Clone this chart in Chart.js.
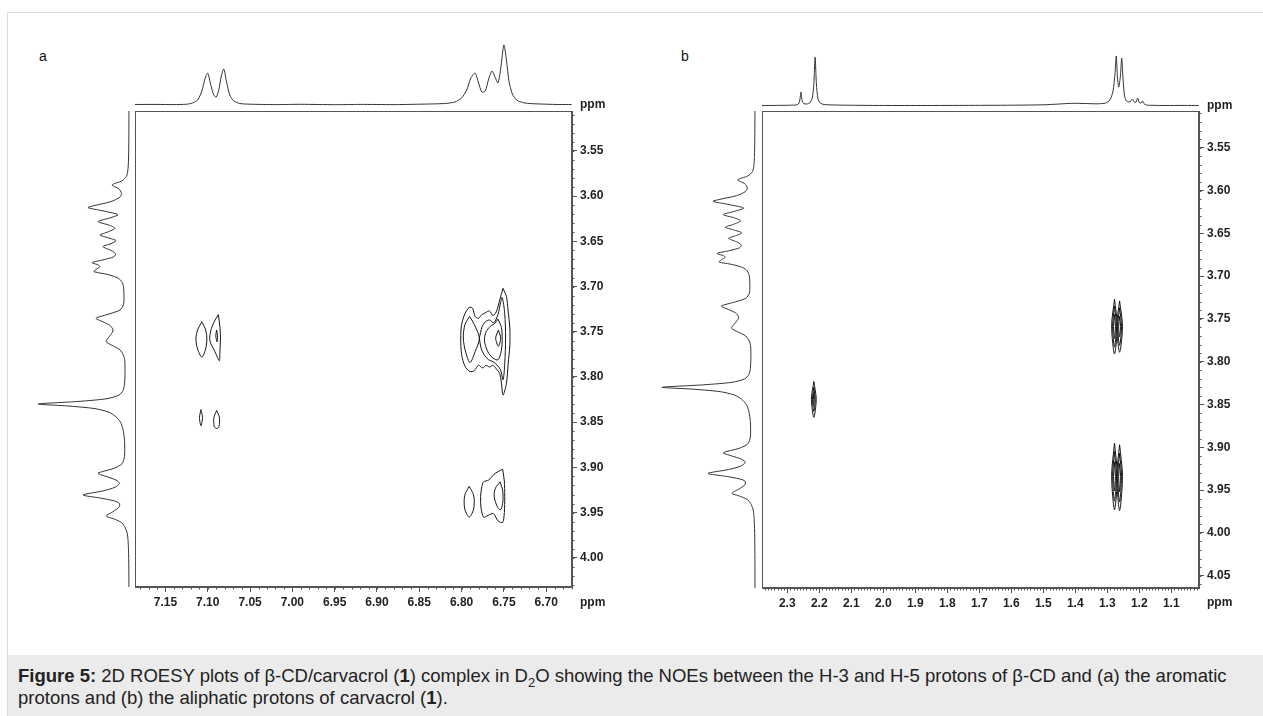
<!DOCTYPE html>
<html>
<head>
<meta charset="utf-8">
<script src="https://cdn.jsdelivr.net/npm/chart.js@4.4.1/dist/chart.umd.min.js"></script>
<style>
  body { margin: 0; width: 1263px; height: 716px; overflow: hidden; background: #fff; position: relative;
         font-family: "Liberation Sans", Arial, Helvetica, sans-serif; }
  canvas { position: absolute; }
  .frame { position: absolute; left: 7px; top: 12px; width: 1300px; height: 800px; border: 1px solid #dcdcdc; box-sizing: border-box; }
  .panel-label { position: absolute; font-size: 14px; line-height: 16px; color: #111; }
  .ppm { position: absolute; font-size: 12px; font-weight: bold; line-height: 14px; color: #222; }
  .caption-box { position: absolute; left: 8px; top: 655px; width: 1300px; height: 80px; background: #ebebeb; }
  .caption { position: absolute; left: 18px; top: 665px; font-size: 18.5px; line-height: 22px; color: #222; white-space: nowrap; }
  .caption sub { font-size: 13px; line-height: 0; }
</style>
</head>
<body>
<div class="frame"></div>

<div class="panel-label" style="left:39px; top:48px;">a</div>
<div class="panel-label" style="left:681px; top:48px;">b</div>

<canvas id="aTop" width="437" height="70" style="left:135px; top:36px;"></canvas>
<canvas id="aSide" width="100" height="476" style="left:30px; top:111px;"></canvas>
<canvas id="aMain" width="540" height="530" style="left:100px; top:100px;"></canvas>

<canvas id="bTop" width="437" height="70" style="left:762px; top:37px;"></canvas>
<canvas id="bSide" width="100" height="477" style="left:656px; top:111px;"></canvas>
<canvas id="bMain" width="540" height="530" style="left:727px; top:100px;"></canvas>

<div class="ppm" style="left:580px; top:97px;">ppm</div>
<div class="ppm" style="left:580px; top:595px;">ppm</div>
<div class="ppm" style="left:1207px; top:98px;">ppm</div>
<div class="ppm" style="left:1207px; top:595px;">ppm</div>

<div class="caption-box"></div>
<div class="caption"><b>Figure 5:</b> 2D ROESY plots of β-CD/carvacrol (<b>1</b>) complex in D<sub>2</sub>O showing the NOEs between the H-3 and H-5 protons of β-CD and (a) the aromatic<br>protons and (b) the aliphatic protons of carvacrol (<b>1</b>).</div>

<script>
Chart.defaults.font.family = '"Liberation Sans", Arial, Helvetica, sans-serif';
Chart.defaults.animation = false;

// axis ranges (ppm) and tick labels
const aXRange = [6.6695, 7.186];
const aYRange = [3.5058, 4.0323];
const bXRange = [1.0134, 2.379];
const bYRange = [3.5071, 4.0644];
const aXTicks = [7.15, 7.10, 7.05, 7.00, 6.95, 6.90, 6.85, 6.80, 6.75, 6.70];
const aYTicks = [3.55, 3.60, 3.65, 3.70, 3.75, 3.80, 3.85, 3.90, 3.95, 4.00];
const bXTicks = [2.3, 2.2, 2.1, 2.0, 1.9, 1.8, 1.7, 1.6, 1.5, 1.4, 1.3, 1.2, 1.1];
const bYTicks = [3.55, 3.60, 3.65, 3.70, 3.75, 3.80, 3.85, 3.90, 3.95, 4.00, 4.05];

// F2 projection (top) of panel a: [ppm, intensity]
const aF2Proj = [
  [7.186,0.5],[7.16,0.6],[7.14,0.4],[7.125,0.8],[7.118,2],[7.112,5],[7.107,14],[7.103,27],[7.100,32],
  [7.097,22],[7.093,10],[7.090,8],[7.087,15],[7.084,29],[7.081,36],[7.078,24],[7.074,10],[7.069,4],
  [7.062,1.5],[7.05,0.8],[7.02,0.4],[6.99,0.7],[6.95,0.3],[6.92,0.6],[6.88,0.4],[6.85,0.8],[6.82,1.5],
  [6.808,3],[6.800,7],[6.794,15],[6.789,27],[6.784,32],[6.780,22],[6.776,13],[6.772,14],[6.768,26],
  [6.764,34],[6.760,27],[6.757,22],[6.754,35],[6.750,60],[6.747,45],[6.744,24],[6.740,11],[6.735,5],
  [6.728,2.5],[6.72,1.5],[6.70,0.8],[6.685,0.5],[6.670,0.5]
];

// F2 projection (top) of panel b
const bF2Proj = [
  [2.379,0.5],[2.33,0.6],[2.29,0.8],[2.27,1.2],[2.263,3],[2.259,10],[2.257,14],[2.254,6],[2.249,2.5],
  [2.240,2],[2.230,3],[2.222,8],[2.217,22],[2.213,49],[2.209,22],[2.204,7],[2.197,3],[2.185,1.5],
  [2.15,1],[2.05,0.6],[1.90,0.5],[1.75,0.6],[1.60,0.8],[1.50,1.2],[1.45,2],[1.41,2.7],[1.37,2.5],
  [1.33,2.2],[1.305,3],[1.292,6],[1.282,15],[1.276,32],[1.272,50],[1.268,28],[1.264,19],[1.259,30],
  [1.255,48],[1.251,28],[1.246,10],[1.240,5],[1.232,4],[1.226,5],[1.221,7],[1.216,4],[1.210,4],
  [1.205,8],[1.200,3.5],[1.194,3],[1.190,5],[1.186,2.5],[1.178,1],[1.16,0.7],[1.12,0.5],[1.06,0.6],
  [1.014,0.5]
];

// F1 projection (left, beta-CD region), same in both panels: [ppm, intensity]
const f1Proj = [
  [3.505,0],[3.540,0.2],[3.560,0.5],[3.572,1.2],[3.578,2.5],[3.583,7],[3.5876,17],[3.592,10],[3.597,7.5],
  [3.601,9],[3.606,18],[3.6105,35],[3.6127,41],[3.616,27],[3.6195,13],[3.6208,11],[3.624,19],[3.6282,31],
  [3.632,20],[3.6355,14],[3.6395,21],[3.6429,29],[3.646,21],[3.6492,13],[3.6525,18],[3.6558,26],[3.660,18],
  [3.6635,13.5],[3.6669,15],[3.6705,26],[3.6735,37],[3.676,31],[3.6780,29],[3.681,33],[3.6835,35],
  [3.6865,22],[3.690,12],[3.694,7.5],[3.700,5.5],[3.712,5],[3.720,5.5],[3.726,9],[3.731,22],[3.7351,33],
  [3.739,26],[3.743,19],[3.748,16],[3.753,18],[3.757,21],[3.7609,23],[3.765,17],[3.770,9],[3.776,5.5],
  [3.781,4.3],[3.795,4],[3.808,4.5],[3.815,6],[3.820,10],[3.824,22],[3.827,50],[3.8299,91],[3.832,62],
  [3.835,34],[3.839,20],[3.844,13],[3.850,8.5],[3.858,6],[3.870,4.5],[3.888,4.5],[3.896,7],[3.901,15],
  [3.9065,31],[3.910,23],[3.914,13],[3.9176,9.5],[3.922,14],[3.926,26],[3.9305,46],[3.934,28],[3.937,15],
  [3.9397,9.5],[3.944,10],[3.949,16],[3.9537,22.7],[3.957,15],[3.961,7.5],[3.9655,4.3],[3.972,2],
  [3.980,1],[3.995,0.4],[4.02,0.1],[4.07,0]
];

// cross-peak contours of panel a: each one [F2 ppm, F1 ppm] around the outline
const aContours = [
  [[7.107,3.739],[7.1025,3.748],[7.101,3.758],[7.1025,3.769],[7.107,3.778],[7.112,3.769],[7.114,3.758],[7.112,3.748],[7.107,3.739]],
  [[7.0875,3.731],[7.0856,3.745],[7.085,3.758],[7.0856,3.771],[7.0864,3.782],[7.0915,3.772],[7.0975,3.760],[7.0965,3.749],[7.0925,3.739],[7.0875,3.731]],
  [[7.0895,3.748],[7.0885,3.7545],[7.089,3.761],[7.0905,3.7545],[7.0895,3.748]],
  [[7.108,3.836],[7.1062,3.845],[7.108,3.854],[7.1098,3.845],[7.108,3.836]],
  [[7.0895,3.837],[7.0862,3.845],[7.0868,3.855],[7.0895,3.857],[7.0922,3.855],[7.0928,3.845],[7.0895,3.837]],
  [[6.751,3.702],[6.747,3.711],[6.745,3.727],[6.743,3.746],[6.743,3.765],[6.745,3.786],[6.747,3.807],[6.751,3.820],
   [6.753,3.806],[6.755,3.796],[6.759,3.791],[6.763,3.787],[6.767,3.789],[6.771,3.787],[6.775,3.790],[6.780,3.787],
   [6.785,3.793],[6.790,3.794],[6.796,3.788],[6.800,3.775],[6.801,3.758],[6.800,3.742],[6.796,3.730],[6.791,3.723],
   [6.787,3.724],[6.784,3.733],[6.780,3.735],[6.776,3.731],[6.772,3.729],[6.767,3.727],[6.763,3.732],[6.759,3.728],
   [6.755,3.715],[6.751,3.702]],
  [[6.7905,3.733],[6.785,3.742],[6.779,3.757],[6.784,3.772],[6.790,3.784],[6.795,3.773],[6.798,3.757],[6.796,3.742],[6.7905,3.733]],
  [[6.779,3.757],[6.776,3.745],[6.772,3.739],[6.767,3.737],[6.762,3.740],[6.757,3.731],[6.754,3.718],[6.752,3.712],
   [6.749,3.730],[6.748,3.757],[6.749,3.785],[6.751,3.803],[6.754,3.792],[6.758,3.787],[6.763,3.783],[6.768,3.781],
   [6.773,3.776],[6.777,3.768],[6.779,3.757]],
  [[6.757,3.736],[6.753,3.745],[6.752,3.758],[6.753,3.771],[6.757,3.781],[6.763,3.779],[6.769,3.772],[6.773,3.760],
   [6.771,3.750],[6.766,3.744],[6.761,3.741],[6.757,3.736]],
  [[6.7565,3.748],[6.7538,3.757],[6.7565,3.766],[6.7597,3.757],[6.7565,3.748]],
  [[6.791,3.921],[6.786,3.930],[6.785,3.938],[6.786,3.947],[6.791,3.955],[6.796,3.947],[6.797,3.938],[6.796,3.930],[6.791,3.921]],
  [[6.7515,3.902],[6.7495,3.915],[6.749,3.932],[6.7495,3.950],[6.7515,3.961],[6.757,3.959],[6.7625,3.951],[6.7685,3.953],
   [6.774,3.955],[6.777,3.945],[6.7775,3.932],[6.776,3.921],[6.774,3.916],[6.768,3.914],[6.762,3.908],[6.757,3.9047],[6.7515,3.902]],
  [[6.7545,3.916],[6.7515,3.925],[6.751,3.932],[6.7515,3.940],[6.754,3.947],[6.758,3.943],[6.7615,3.932],[6.760,3.923],[6.7545,3.916]]
];

// cross-peak contours of panel b
const bContours = [
  [[2.217,3.823],[2.2095,3.844],[2.217,3.865],[2.2245,3.844],[2.217,3.823]],
  [[2.217,3.830],[2.2125,3.844],[2.217,3.858],[2.2215,3.844],[2.217,3.830]],
  [[2.217,3.836],[2.2155,3.844],[2.217,3.852],[2.2185,3.844],[2.217,3.836]],
  [[1.2775,3.727],[1.2685,3.759],[1.2775,3.791],[1.2865,3.759],[1.2775,3.727]],
  [[1.2615,3.729],[1.2525,3.759],[1.2615,3.789],[1.2705,3.759],[1.2615,3.729]],
  [[1.2775,3.735],[1.2715,3.759],[1.2775,3.783],[1.2835,3.759],[1.2775,3.735]],
  [[1.2615,3.737],[1.2555,3.759],[1.2615,3.781],[1.2675,3.759],[1.2615,3.737]],
  [[1.2775,3.745],[1.2745,3.759],[1.2775,3.773],[1.2805,3.759],[1.2775,3.745]],
  [[1.2615,3.747],[1.2585,3.759],[1.2615,3.771],[1.2645,3.759],[1.2615,3.747]],
  [[1.2775,3.895],[1.2685,3.934],[1.2775,3.973],[1.2865,3.934],[1.2775,3.895]],
  [[1.2615,3.897],[1.2525,3.934],[1.2615,3.974],[1.2705,3.934],[1.2615,3.897]],
  [[1.2775,3.905],[1.2715,3.934],[1.2775,3.963],[1.2835,3.934],[1.2775,3.905]],
  [[1.2615,3.907],[1.2555,3.934],[1.2615,3.964],[1.2675,3.934],[1.2615,3.907]],
  [[1.2775,3.917],[1.2745,3.934],[1.2775,3.951],[1.2805,3.934],[1.2775,3.917]],
  [[1.2615,3.919],[1.2585,3.934],[1.2615,3.952],[1.2645,3.934],[1.2615,3.919]]
];

const axisColor = '#555';
const labelFont = { size: 12, weight: 'bold' };

function lineSet(points, color, tension, swap) {
  return {
    data: points.map(p => swap ? { x: p[1], y: p[0] } : { x: p[0], y: p[1] }),
    showLine: true,
    borderColor: color,
    borderWidth: 1,
    pointRadius: 0,
    tension: tension,
    fill: false
  };
}

// frame round the plot area and the short 0.01 ppm ticks
const frameTicks = {
  id: 'frameTicks',
  afterDraw(chart) {
    const { ctx, chartArea: a, scales } = chart;
    const l = Math.round(a.left) + 0.5, r = Math.round(a.right) - 0.5;
    const t = Math.round(a.top) + 0.5, b = Math.round(a.bottom) - 0.5;
    ctx.save();
    ctx.strokeStyle = axisColor;
    ctx.lineWidth = 1;
    ctx.strokeRect(l, t, r - l, b - t);
    ctx.beginPath();
    const xs = scales.x, ys = scales.y;
    for (let v = Math.ceil(xs.min * 100 - 1e-6); v <= xs.max * 100 + 1e-6; v++) {
      const px = Math.round(xs.getPixelForValue(v / 100)) + 0.5;
      ctx.moveTo(px, b);
      ctx.lineTo(px, b + 3);
    }
    for (let v = Math.ceil(ys.min * 100 - 1e-6); v <= ys.max * 100 + 1e-6; v++) {
      const py = Math.round(ys.getPixelForValue(v / 100)) + 0.5;
      ctx.moveTo(r, py);
      ctx.lineTo(r + 3, py);
    }
    ctx.stroke();
    ctx.restore();
  }
};

function makeMain(id, contours, xRange, yRange, xTicks, yTicks, xDigits, padBottom) {
  new Chart(document.getElementById(id), {
    type: 'scatter',
    data: { datasets: contours.map(c => lineSet(c, '#151515', 0.3, false)) },
    options: {
      responsive: false,
      devicePixelRatio: 1,
      layout: { padding: { left: 35, top: 11, right: 18, bottom: padBottom } },
      plugins: { legend: { display: false }, tooltip: { enabled: false } },
      scales: {
        x: {
          type: 'linear', position: 'bottom', reverse: true,
          min: xRange[0], max: xRange[1],
          afterBuildTicks: s => { s.ticks = xTicks.map(v => ({ value: v })); },
          afterFit: s => { s.height = 30; },
          grid: { drawOnChartArea: false, tickLength: 5, color: axisColor },
          border: { color: axisColor },
          ticks: { autoSkip: false, maxRotation: 0, padding: 3, color: '#222', font: labelFont,
                   callback: v => v.toFixed(xDigits) }
        },
        y: {
          type: 'linear', position: 'right', reverse: true,
          min: yRange[0], max: yRange[1],
          afterBuildTicks: s => { s.ticks = yTicks.map(v => ({ value: v })); },
          afterFit: s => { s.width = 50; },
          grid: { drawOnChartArea: false, tickLength: 5, color: axisColor },
          border: { color: axisColor },
          ticks: { autoSkip: false, padding: 3, color: '#222', font: labelFont,
                   callback: v => v.toFixed(2) }
        }
      }
    },
    plugins: [frameTicks]
  });
}

function makeTop(id, proj, xRange) {
  new Chart(document.getElementById(id), {
    type: 'scatter',
    data: { datasets: [lineSet(proj, '#333', 0.25, false)] },
    options: {
      responsive: false,
      devicePixelRatio: 1,
      plugins: { legend: { display: false }, tooltip: { enabled: false } },
      scales: {
        x: { type: 'linear', display: false, reverse: true, min: xRange[0], max: xRange[1] },
        y: { type: 'linear', display: false, min: -1, max: 69 }
      }
    }
  });
}

function makeSide(id, proj, yRange, xMax) {
  new Chart(document.getElementById(id), {
    type: 'scatter',
    data: { datasets: [lineSet(proj, '#333', 0.25, true)] },
    options: {
      responsive: false,
      devicePixelRatio: 1,
      plugins: { legend: { display: false }, tooltip: { enabled: false } },
      scales: {
        x: { type: 'linear', display: false, reverse: true, min: -1, max: xMax },
        y: { type: 'linear', display: false, reverse: true, min: yRange[0], max: yRange[1] }
      }
    }
  });
}

makeTop('aTop', aF2Proj, aXRange);
makeSide('aSide', f1Proj, aYRange, 99);
makeMain('aMain', aContours, aXRange, aYRange, aXTicks, aYTicks, 2, 13);

makeTop('bTop', bF2Proj, bXRange);
makeSide('bSide', f1Proj, bYRange, 96.8);
makeMain('bMain', bContours, bXRange, bYRange, bXTicks, bYTicks, 1, 12);
</script>
</body>
</html>
